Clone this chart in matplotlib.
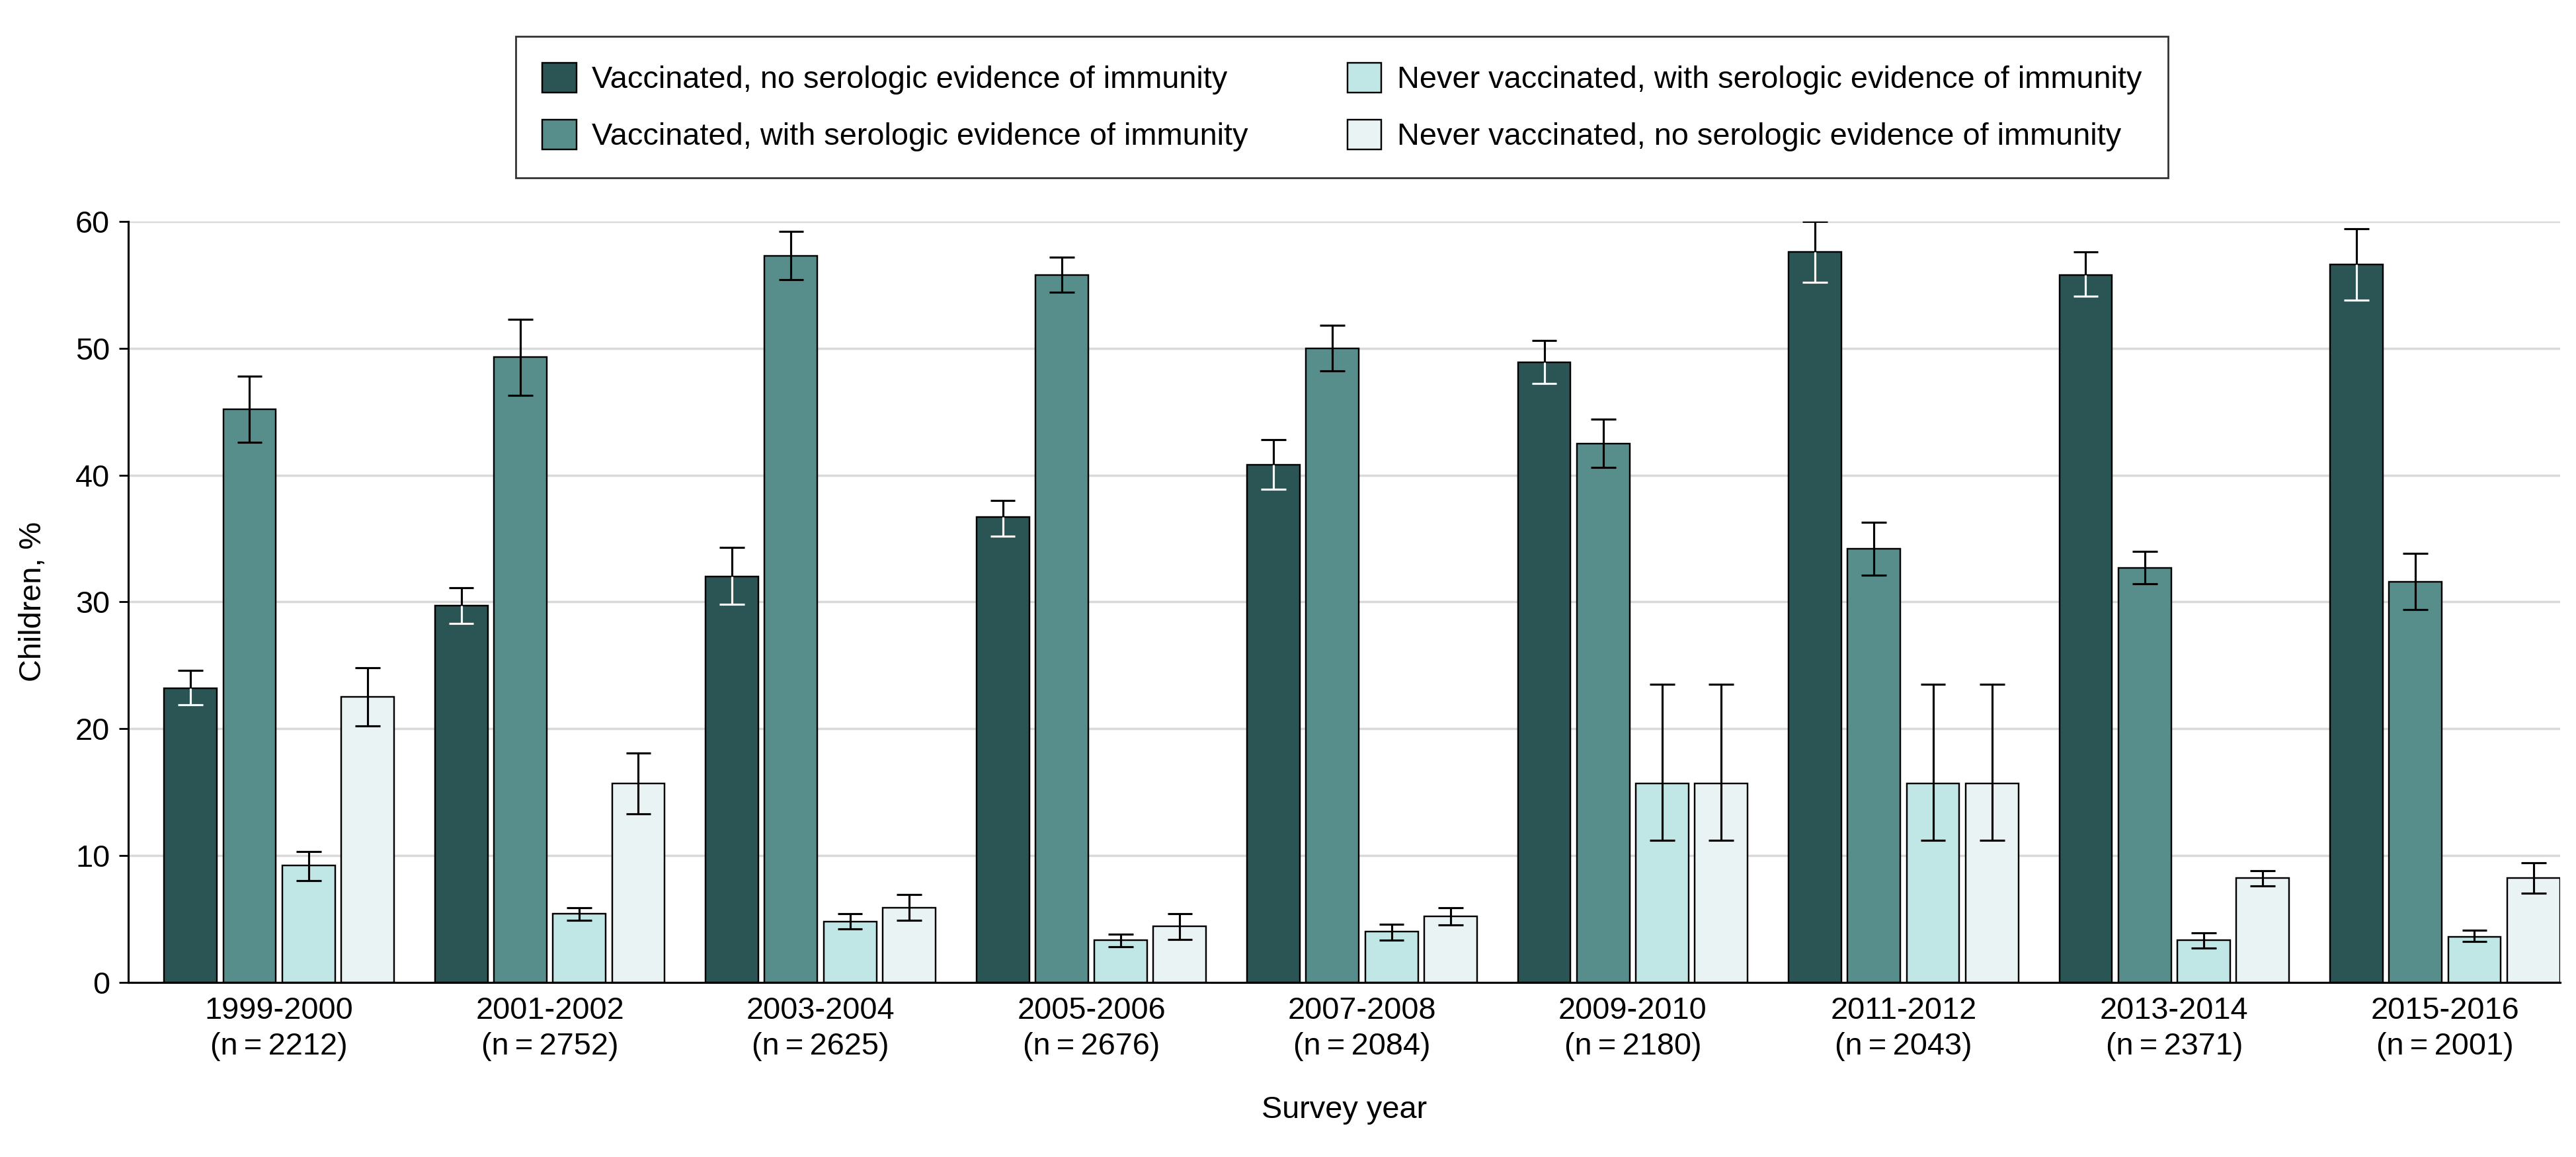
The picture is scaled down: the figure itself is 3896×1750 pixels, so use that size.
import numpy as np
import matplotlib
matplotlib.use('Agg')
import matplotlib.pyplot as plt
from matplotlib.patches import Patch

plt.rcParams['font.family'] = ['Liberation Sans Narrow', 'Liberation Sans', 'DejaVu Sans']

years = ['1999-2000', '2001-2002', '2003-2004', '2005-2006', '2007-2008',
         '2009-2010', '2011-2012', '2013-2014', '2015-2016']
n_sizes = [2212, 2752, 2625, 2676, 2084, 2180, 2043, 2371, 2001]

series_names = ['Vaccinated, no serologic evidence of immunity',
                'Vaccinated, with serologic evidence of immunity',
                'Never vaccinated, with serologic evidence of immunity',
                'Never vaccinated, no serologic evidence of immunity']
colors = ['#2b5454', '#578e8c', '#c0e6e5', '#eaf3f4']

# point estimates (%)
vacc_no_imm = [23.2, 29.7, 32.0, 36.7, 40.8, 48.9, 57.6, 55.8, 56.6]
vacc_imm = [45.2, 49.3, 57.3, 55.8, 50.0, 42.5, 34.2, 32.7, 31.6]
never_imm = [9.2, 5.4, 4.8, 3.3, 4.0, 15.7, 15.7, 3.3, 3.6]
never_no_imm = [22.5, 15.7, 5.9, 4.4, 5.2, 15.7, 15.7, 8.2, 8.2]

# 95% CI bounds
vacc_no_imm_lo = [21.9, 28.3, 29.8, 35.2, 38.9, 47.2, 55.2, 54.1, 53.8]
vacc_no_imm_hi = [24.6, 31.1, 34.3, 38.0, 42.8, 50.6, 60.0, 57.6, 59.4]
vacc_imm_lo = [42.6, 46.3, 55.4, 54.4, 48.2, 40.6, 32.1, 31.4, 29.4]
vacc_imm_hi = [47.8, 52.3, 59.2, 57.2, 51.8, 44.4, 36.3, 34.0, 33.8]
never_imm_lo = [8.0, 4.9, 4.2, 2.8, 3.3, 11.2, 11.2, 2.7, 3.2]
never_imm_hi = [10.3, 5.9, 5.4, 3.8, 4.6, 23.5, 23.5, 3.9, 4.1]
never_no_imm_lo = [20.2, 13.3, 4.9, 3.4, 4.5, 11.2, 11.2, 7.6, 7.0]
never_no_imm_hi = [24.8, 18.1, 6.9, 5.4, 5.9, 23.5, 23.5, 8.8, 9.4]

values = [vacc_no_imm, vacc_imm, never_imm, never_no_imm]
lows = [vacc_no_imm_lo, vacc_imm_lo, never_imm_lo, never_no_imm_lo]
highs = [vacc_no_imm_hi, vacc_imm_hi, never_imm_hi, never_no_imm_hi]

fig = plt.figure(figsize=(15.584, 7.0), dpi=250)
ax = fig.add_axes([0.0498, 0.151, 0.9440, 0.6576])

x = np.arange(len(years))
step = 0.218
width = 0.195
cap = 0.046

for i in range(4):
    xs = x + (i - 1.5) * step
    v = np.array(values[i])
    lo = np.array(lows[i])
    hi = np.array(highs[i])
    ax.bar(xs, v, width, color=colors[i], edgecolor='black', linewidth=0.7, zorder=3)
    # upper half of the CI always black
    ax.vlines(xs, v, hi, color='black', lw=0.9, zorder=4)
    ax.hlines(hi, xs - cap, xs + cap, color='black', lw=0.9, zorder=4)
    # lower half is white inside the darkest bars
    low_col = 'white' if i == 0 else 'black'
    ax.vlines(xs, lo, v, color=low_col, lw=0.9, zorder=4)
    ax.hlines(lo, xs - cap, xs + cap, color=low_col, lw=0.9, zorder=4)

ax.set_xlim(-0.557, 8.425)
ax.set_ylim(0, 60)
ax.set_yticks(range(0, 61, 10))
ax.yaxis.grid(True, color='#d9d9d9', lw=1.0, zorder=0)
ax.set_axisbelow(True)

ax.set_xticks(x)
ax.set_xticklabels([f'{y}\n(n\u2009=\u2009{n})' for y, n in zip(years, n_sizes)],
                   fontsize=13.5, linespacing=1.3)
ax.tick_params(axis='x', length=0, pad=6)
ax.tick_params(axis='y', length=4, width=0.8, labelsize=13.5, pad=4)

for s in ['top', 'right']:
    ax.spines[s].set_visible(False)
ax.spines['left'].set_linewidth(0.9)
ax.spines['bottom'].set_linewidth(0.9)

ax.set_ylabel('Children, %', fontsize=13.5, labelpad=12)
ax.set_xlabel('Survey year', fontsize=13.5, labelpad=15)

handles = [Patch(facecolor=c, edgecolor='black', linewidth=0.7) for c in colors]
leg = fig.legend(handles, series_names, loc='upper center', bbox_to_anchor=(0.521, 0.982),
                 ncol=2, fontsize=13.5, frameon=True, fancybox=False, edgecolor='#333333',
                 borderpad=0.85, labelspacing=0.8, handlelength=1.1, handleheight=1.1,
                 handletextpad=0.5, columnspacing=3.2, framealpha=1)
leg.get_frame().set_linewidth(0.8)

plt.savefig('out.png', dpi=250)
